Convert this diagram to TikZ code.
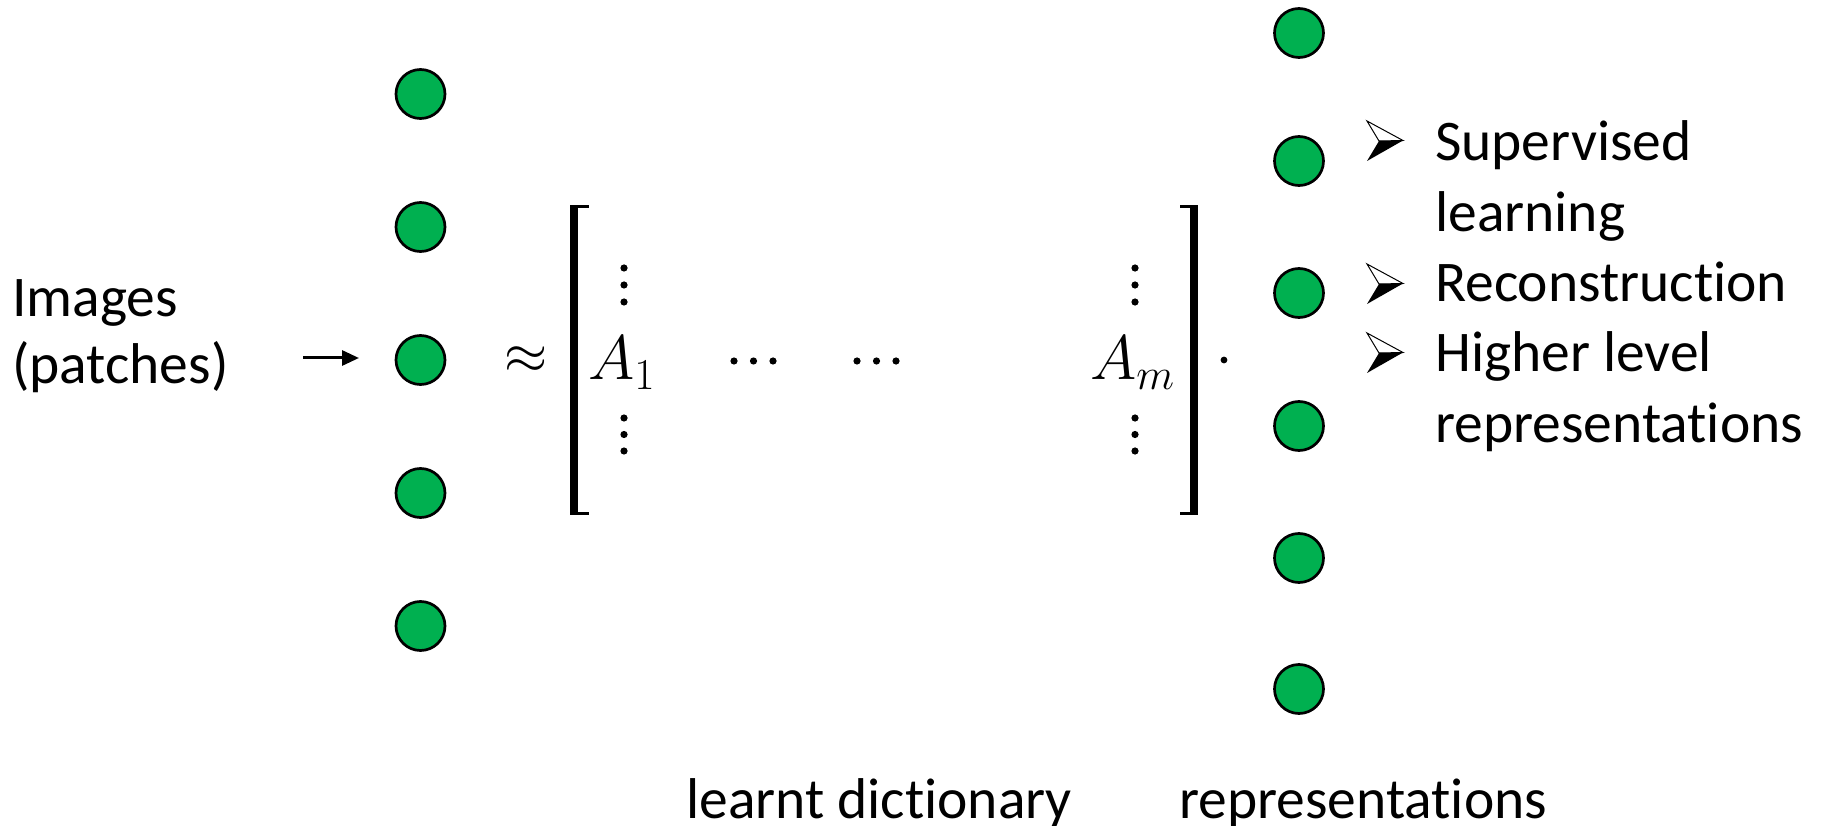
\RequirePackage{fix-cm}
\documentclass[tikz,border=0pt]{standalone}
\usepackage{fontspec}
\setmainfont{Carlito}[Ligatures={NoCommon}]
\usetikzlibrary{arrows.meta}
\definecolor{pgreen}{HTML}{00B050}
\tikzset{
  unit/.style={circle, draw=black, fill=pgreen, line width=2.7pt, minimum size=49pt, inner sep=0pt},
  lbl/.style={anchor=base west, inner sep=0pt, font=\fontsize{57.5}{70}\selectfont},
  mth/.style={anchor=base west, inner sep=0pt, font=\fontsize{63}{70}\selectfont},
  sym/.style={inner sep=0pt, font=\fontsize{55.5}{70}\selectfont},
  mdot/.style={fill=black},
  arrbullet/.pic={
    \filldraw[fill=white, draw=black, line width=1pt, line join=miter] (-18,-20) -- (18,-0.5) -- (-6,0) -- cycle;
    \fill[black] (-6,0) -- (18,-0.5) -- (-18,20) -- cycle;
  }
}
\begin{document}
\begin{tikzpicture}[x=1pt,y=-1pt]
\useasboundingbox[fill=white] (0,0) rectangle (1824,826);

% input label
\node[lbl] (img1) at (12,317) {Images};
\node[lbl] (img2) at (12,384) {(patches)};
\coordinate (arrS) at (303,358);
\coordinate (arrE) at (359,358);
\draw[line width=3pt, -{Triangle[length=17pt,width=15pt]}] (arrS) -- (arrE);

% left units
\foreach \i/\y in {1/94,2/227,3/360,4/493,5/626}
  \node[unit] (l\i) at (420.5,\y) {};

% approx
\node[sym] (approx) at (526.5,360) {$\approx$};

% brackets
\fill (570,205) rectangle (578,515);
\fill (570,205) rectangle (589,208.5);
\fill (570,511.5) rectangle (589,515);
\fill (1190,205) rectangle (1198,515);
\fill (1180,205) rectangle (1198,208.5);
\fill (1180,511.5) rectangle (1198,515);

% columns
\node[mth] (A1) at (588,380) {$A_1$};
\node[mth] (Am) at (1090,380) {$A_m$};
\foreach \x in {624,1135}
  \foreach \y in {268,285,302,418,434.5,451}
    \fill[mdot] (\x,\y) circle (3.6pt);
\foreach \x in {734,753.5,773,857,876.5,896}
  \fill[mdot] (\x,361) circle (3.6pt);
\fill[mdot] (1224,360) circle (3.4pt);

% right units
\foreach \i/\y in {1/33,2/161,3/293,4/426,5/558,6/689}
  \node[unit] (r\i) at (1299,\y) {};

% bullets
\pic (b1) at (1385,141) {arrbullet};
\pic (b2) at (1385,284) {arrbullet};
\pic (b3) at (1385,353) {arrbullet};
\node[lbl] (t1) at (1435,161) {Supervised};
\node[lbl] (t2) at (1435,232) {learning};
\node[lbl] (t3) at (1435,302) {Reconstruction};
\node[lbl] (t4) at (1435,372) {Higher level};
\node[lbl] (t5) at (1435,442) {representations};

% bottom labels
\node[lbl] (dict) at (686,818) {learnt dictionary};
\node[lbl] (reps) at (1179,818) {representations};
\end{tikzpicture}
\end{document}
